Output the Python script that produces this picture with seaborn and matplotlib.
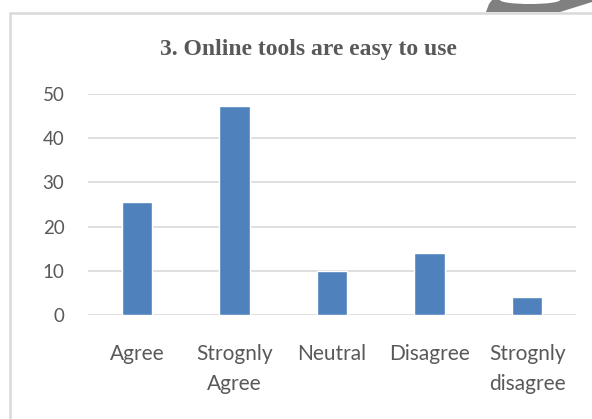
import matplotlib
matplotlib.use("Agg")
import matplotlib.pyplot as plt
from matplotlib.patches import Rectangle, Polygon, Ellipse
import seaborn as sns
import pandas as pd

# Survey responses (percent of respondents)
categories = ["Agree", "Strognly\nAgree", "Neutral", "Disagree", "Strognly\ndisagree"]
values = [25.6, 47.2, 10.0, 14.0, 4.1]
yticks = [0, 10, 20, 30, 40, 50]
title = "3. Online tools are easy to use"

df = pd.DataFrame({"response": categories, "percent": values})

sns.set_theme(style="white")
plt.rcParams["font.family"] = ["Lato", "DejaVu Sans"]

fig = plt.figure(figsize=(5.92, 4.19), dpi=100)
ax = fig.add_axes([88 / 592, 1 - 315 / 419, 488 / 592, 221 / 419])

sns.barplot(data=df, x="response", y="percent", color="#4f81bd",
            width=0.31, saturation=1, ax=ax, zorder=3)

ax.set_xlim(-0.5, len(categories) - 0.5)
ax.set_ylim(0, 50)
ax.set_yticks(yticks)
ax.set_yticklabels([str(t) for t in yticks])
ax.yaxis.grid(True, color="#d9d9d9", linewidth=1.2, zorder=0)
ax.set_axisbelow(True)
for s in ax.spines.values():
    s.set_visible(False)
ax.set_xlabel("")
ax.set_ylabel("")
ax.tick_params(axis="both", length=0, colors="#595959")
ax.tick_params(axis="y", pad=17, labelsize=13.5)
ax.tick_params(axis="x", pad=21, labelsize=15)
for lbl in ax.get_xticklabels():
    lbl.set_linespacing(1.6)

fig.text(308 / 592, 1 - 50 / 419, title, ha="center", va="center",
         family="Liberation Serif", weight="bold", fontsize=17, color="#595959")

# chart frame
fig.patches.append(Rectangle((10 / 592, -0.1), 1.2, 1 - 13 / 419 + 0.1,
                             transform=fig.transFigure, fill=False,
                             edgecolor="#d9d9d9", linewidth=1.8))

# grey ribbon at the top-right corner
pts = [(486, 12), (489, 4), (492, 0), (592, 0), (592, 2), (560, 12)]
fig.patches.append(Polygon([(x / 592, 1 - y / 419) for x, y in pts],
                           closed=True, transform=fig.transFigure,
                           facecolor="#808080", edgecolor="none"))
fig.patches.append(Ellipse((530 / 592, 1 - 0 / 419), 60 / 592, 8 / 419,
                           transform=fig.transFigure, facecolor="white",
                           edgecolor="none"))

fig.savefig("out.png", dpi=100)
